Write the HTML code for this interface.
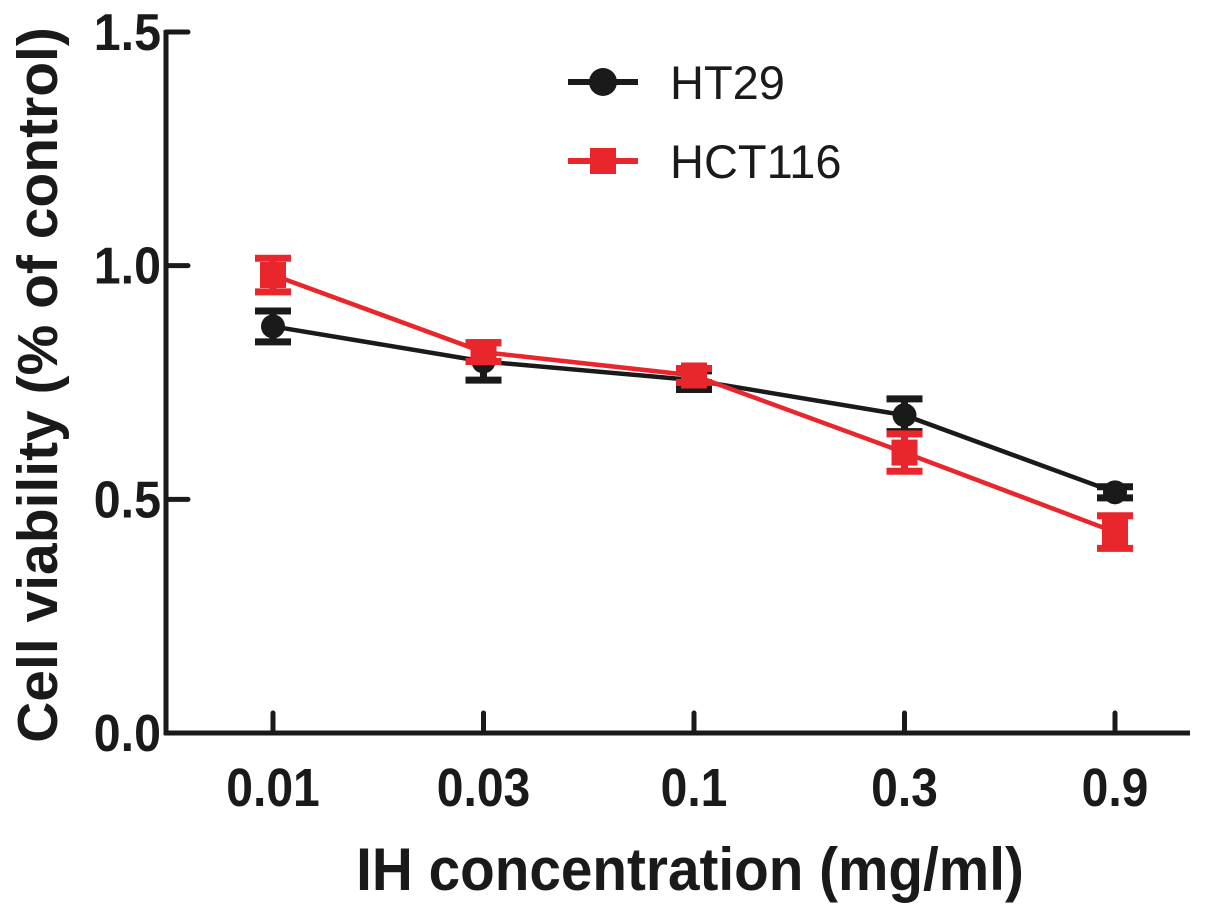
<!DOCTYPE html>
<html><head><meta charset="utf-8"><style>
html,body{margin:0;padding:0;background:#fff;}
svg{display:block;font-family:"Liberation Sans",Arial,sans-serif;}
</style></head><body>
<svg id="chart" width="1205" height="915"></svg>
<script>
const categories=["0.01","0.03","0.1","0.3","0.9"];
const ht29=[0.87,0.795,0.755,0.68,0.515];
const ht29Err=[0.033,0.04,0.02,0.035,0.012];
const hct116=[0.98,0.815,0.765,0.60,0.43];
const hct116Err=[0.036,0.02,0.015,0.04,0.035];
const yTicks=[0,0.5,1.0,1.5];
const yTickLabels=["0.0","0.5","1.0","1.5"];

const NS="http://www.w3.org/2000/svg";
const svg=document.getElementById('chart');
const x0=166,y0=733,yTop=32;
function yScale(v){return y0-(v/1.5)*(y0-yTop);}
function xScale(i){return 273+i*210.5;}
function mk(tag,attrs,parent){const e=document.createElementNS(NS,tag);for(const k in attrs)e.setAttribute(k,attrs[k]);(parent||svg).appendChild(e);return e;}

const yAxis=mk('line',{x1:x0,y1:yTop-2,x2:x0,y2:y0+2,stroke:'#1a1a1a','stroke-width':5});


const xAxis=mk('line',{x1:x0-2,y1:y0,x2:1190,y2:y0,stroke:'#1a1a1a','stroke-width':5});



yTicks.forEach((v,i)=>{
  const y=yScale(v);
  const t=mk('line',{x1:x0,y1:y,x2:x0+22,y2:y,stroke:'#1a1a1a','stroke-width':5,'stroke-linecap':'round'});
  
  
  const l=mk('text',{x:0,y:0,'text-anchor':'end','font-size':52,'font-weight':'bold',fill:'#1a1a1a',transform:`translate(${x0-5},${y+18}) scale(0.93,1)`});
  l.textContent=yTickLabels[i];
  
  
});
categories.forEach((c,i)=>{
  const x=xScale(i);
  const t=mk('line',{x1:x,y1:y0,x2:x,y2:y0-20,stroke:'#1a1a1a','stroke-width':5,'stroke-linecap':'round'});
  
  
  const l=mk('text',{x:0,y:0,'text-anchor':'middle','font-size':54,'font-weight':'bold',fill:'#1a1a1a',transform:`translate(${x},806) scale(0.89,1)`});
  l.textContent=c;
  
  
});
const xt=mk('text',{x:0,y:0,'text-anchor':'middle','font-size':60,'font-weight':'bold',fill:'#1a1a1a',transform:'translate(690,890) scale(0.945,1)'});
xt.textContent='IH concentration (mg/ml)';


const yt=mk('text',{x:0,y:0,'text-anchor':'middle','font-size':57,'font-weight':'bold',fill:'#1a1a1a',transform:'translate(57,385) rotate(-90)'});
yt.textContent='Cell viability (% of control)';



function series(vals,errs,color,shape,name){
  const g=mk('g',{});
  
  
  vals.forEach((v,i)=>{
    const x=xScale(i),yt=yScale(v+errs[i]),yb=yScale(v-errs[i]);
    const e=mk('path',{d:`M${x},${yt}V${yb}M${x-18},${yt}H${x+18}M${x-18},${yb}H${x+18}`,stroke:color,'stroke-width':7,fill:'none'},g);
    
    
  });
  const pl=mk('polyline',{points:vals.map((v,i)=>xScale(i)+','+yScale(v)).join(' '),fill:'none',stroke:color,'stroke-width':4.5},g);
  
  
  vals.forEach((v,i)=>{
    const x=xScale(i),y=yScale(v);
    const m=shape==='circle'?mk('circle',{cx:x,cy:y,r:12,fill:color},g):mk('rect',{x:x-13,y:y-13,width:26,height:26,fill:color},g);
    
    
  });
}
series(ht29,ht29Err,'#1a1a1a','circle','ht29');
series(hct116,hct116Err,'#e8262b','square','hct116');

function legend(y,color,shape,label,name){
  const g=mk('g',{});
  
  
  mk('line',{x1:568,y1:y,x2:638,y2:y,stroke:color,'stroke-width':6},g);
  if(shape==='circle')mk('circle',{cx:603,cy:y,r:14,fill:color},g);else mk('rect',{x:590,y:y-13,width:26,height:26,fill:color},g);
  const t=mk('text',{x:670,y:y+17,'font-size':47,fill:'#1a1a1a'},g);t.textContent=label;
}
legend(82,'#1a1a1a','circle','HT29','ht29');
legend(161,'#e8262b','square','HCT116','hct116');
</script>
</body></html>
